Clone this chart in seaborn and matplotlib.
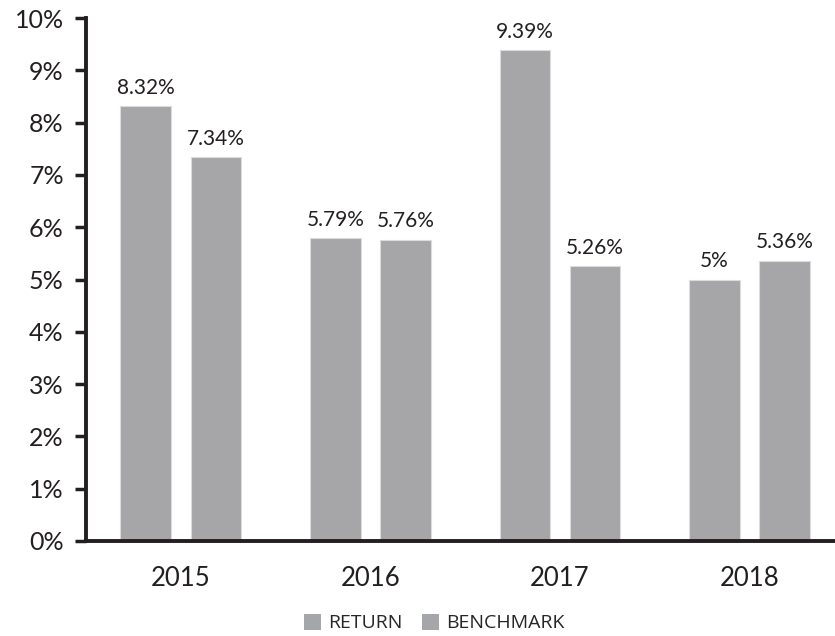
import matplotlib
matplotlib.use("Agg")
import matplotlib.pyplot as plt
import seaborn as sns
import pandas as pd
from matplotlib.ticker import FixedLocator
from matplotlib.patches import Patch

years = ["2015", "2016", "2017", "2018"]
series = ["RETURN", "BENCHMARK"]
return_vals = [8.32, 5.79, 9.39, 5.00]
benchmark_vals = [7.34, 5.76, 5.26, 5.36]
return_labels = ["8.32%", "5.79%", "9.39%", "5%"]
benchmark_labels = ["7.34%", "5.76%", "5.26%", "5.36%"]
y_ticks = [0, 1, 2, 3, 4, 5, 6, 7, 8, 9, 10]
y_ticklabels = [f"{t}%" for t in y_ticks]

df = pd.DataFrame({
    "year": years * 2,
    "series": [series[0]] * 4 + [series[1]] * 4,
    "value": return_vals + benchmark_vals,
})

sns.set_style("white")
plt.rcParams["font.family"] = ["Lato", "DejaVu Sans"]

fig = plt.figure(figsize=(8.35, 6.36), dpi=100)
ax = fig.add_axes([86 / 835, 1 - 541 / 636, 1 - 86 / 835, (541 - 18) / 636])

gray = "#a5a6a9"
sns.barplot(data=df, x="year", y="value", hue="series", palette=[gray, gray],
            width=0.74, gap=0.28, edgecolor="#dcdcdc", linewidth=0.8,
            ax=ax, legend=False)

txt = "#231f20"
for cont, labs in zip(ax.containers, [return_labels, benchmark_labels]):
    ax.bar_label(cont, labels=labs, padding=6, fontsize=15, color=txt)

ax.set_ylim(0, 10)
ax.set_xlim(-0.5, 3.45)
ax.set_yticks(y_ticks)
ax.set_yticklabels(y_ticklabels, fontsize=18, color=txt)
ax.tick_params(axis="x", which="major", length=0, labelsize=18.5, labelcolor=txt, pad=18)
ax.xaxis.set_minor_locator(FixedLocator([-0.5, 0.5, 1.5, 2.5]))
ax.tick_params(axis="x", which="minor", length=8, width=2.5, direction="out", color=txt)
ax.tick_params(axis="y", length=8, width=2.5, direction="out", color=txt, pad=8, left=True)
ax.set_xlabel("")
ax.set_ylabel("")
for s in ["top", "right"]:
    ax.spines[s].set_visible(False)
for s in ["left", "bottom"]:
    ax.spines[s].set_linewidth(2.8)
    ax.spines[s].set_color(txt)

handles = [Patch(facecolor=gray, edgecolor="none") for _ in series]
fig.legend(handles, series, loc="lower center", bbox_to_anchor=(0.52, -0.022),
           ncol=2, frameon=False, handlelength=0.9, handleheight=0.9,
           handletextpad=0.35, columnspacing=1.0,
           prop={"family": ["Open Sans", "DejaVu Sans"], "size": 14})

fig.savefig("out.png", dpi=100)
